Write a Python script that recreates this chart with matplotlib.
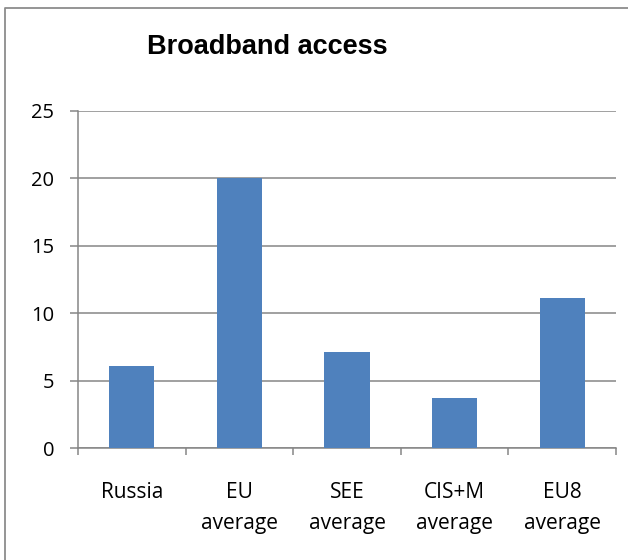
import matplotlib
matplotlib.use("Agg")
import matplotlib.pyplot as plt
from matplotlib.lines import Line2D

# Dati
regioni = ["Russia", "EU\naverage", "SEE\naverage", "CIS+M\naverage", "EU8\naverage"]
valori = [6.1, 20.0, 7.1, 3.7, 11.1]
yticks = [0, 5, 10, 15, 20, 25]

blu = "#4F81BD"
grigio = "#868686"
font_assi = "Open Sans"

fig = plt.figure(figsize=(6.28, 5.6), dpi=100)
ax = fig.add_axes([78 / 628, 1 - 448.3 / 560, 538 / 628, 337.6 / 560])

# cornice del grafico (solo lato sinistro e superiore)
fig.lines.append(Line2D([5 / 628, 5 / 628, 1], [0, 1 - 8 / 560, 1 - 8 / 560],
                        transform=fig.transFigure, color="#8c8c8c", linewidth=1.3))

x = range(len(valori))
ax.bar(x, valori, width=0.42, color=blu, zorder=3)

ax.set_ylim(0, 25)
ax.set_xlim(-0.5, len(valori) - 0.5)
ax.set_yticks(yticks)
ax.yaxis.grid(True, color=grigio, linewidth=1.1, zorder=0)

ax.set_xticks(list(x))
ax.set_xticklabels(regioni, fontfamily=font_assi, fontsize=15, linespacing=1.67,
                   va="top")
ax.set_xticks([i - 0.5 for i in range(len(valori) + 1)], minor=True)
ax.tick_params(axis="x", which="major", length=0, pad=24)
ax.tick_params(axis="x", which="minor", length=5, color=grigio, width=1.1)
ax.tick_params(axis="y", length=6, color=grigio, width=1.1, pad=11,
               labelsize=14.5)
for lab in ax.get_yticklabels():
    lab.set_fontfamily(font_assi)

for lato in ["top", "right"]:
    ax.spines[lato].set_visible(False)
for lato in ["left", "bottom"]:
    ax.spines[lato].set_color(grigio)
    ax.spines[lato].set_linewidth(1.1)

fig.text(267 / 628, 1 - 54 / 560, "Broadband access", ha="center", va="baseline",
         fontfamily="Liberation Sans", fontweight="bold", fontsize=19.5)

fig.savefig("out.png", dpi=100)
